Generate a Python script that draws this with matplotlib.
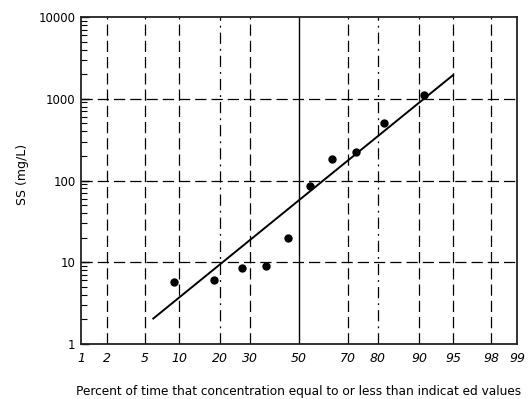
import matplotlib
matplotlib.use("Agg")
import matplotlib.pyplot as plt
import numpy as np
from statistics import NormalDist

# SS concentration vs. cumulative percent (probability paper)
percent = [9.1, 18.2, 27.3, 36.4, 45.5, 54.5, 63.6, 72.7, 81.8, 90.9]
ss = [5.7, 6.0, 8.5, 9.0, 20, 85, 185, 225, 500, 1100]

# fitted line end points
fit_percent = [6, 95]
fit_ss = [2.05, 1950]

prob_ticks = [1, 2, 5, 10, 20, 30, 50, 70, 80, 90, 95, 98, 99]
y_ticks = [1, 10, 100, 1000, 10000]

_nd = NormalDist()
_ppf = np.vectorize(lambda p: _nd.inv_cdf(min(max(p / 100.0, 1e-9), 1 - 1e-9)), otypes=[float])
_cdf = np.vectorize(lambda z: _nd.cdf(z) * 100.0, otypes=[float])


def prob_forward(p):
    return _ppf(np.asarray(p, dtype=float))


def prob_inverse(z):
    return _cdf(np.asarray(z, dtype=float))


fig = plt.figure(figsize=(5.29, 3.99), dpi=100)
ax = fig.add_axes([0.1531, 0.1378, 0.8242, 0.8196])
ax.set_xscale("function", functions=(prob_forward, prob_inverse))
ax.set_yscale("log")
ax.set_xlim(1, 99)
ax.set_ylim(1, 10000)

# vertical grid: solid at 50, dash-dot at 20 and 80, dashed elsewhere
for p in prob_ticks[1:-1]:
    if p == 50:
        ax.axvline(p, color="black", lw=1.0, zorder=1)
    elif p in (20, 80):
        ax.axvline(p, color="black", lw=0.9, dashes=(9, 4, 1.5, 4), zorder=1)
    else:
        ax.axvline(p, color="black", lw=0.9, dashes=(9, 4), zorder=1)
for y in y_ticks[1:-1]:
    ax.axhline(y, color="black", lw=0.9, dashes=(9, 4), zorder=1)

ax.plot(fit_percent, fit_ss, color="black", lw=1.4, zorder=3)
ax.plot(percent, ss, "o", color="black", ms=5, zorder=4)

ax.set_xticks(prob_ticks)
ax.set_xticklabels([str(p) for p in prob_ticks], style="italic", fontsize=9)
ax.xaxis.set_minor_locator(matplotlib.ticker.NullLocator())
ax.tick_params(axis="x", length=0, pad=6)

ax.set_yticks(y_ticks)
ax.set_yticklabels([str(y) for y in y_ticks], fontsize=8.5)
ax.yaxis.set_minor_locator(matplotlib.ticker.LogLocator(base=10, subs=np.arange(2, 10)))
ax.yaxis.set_minor_formatter(matplotlib.ticker.NullFormatter())
ax.tick_params(axis="y", which="major", direction="in", length=6, width=1, pad=4)
ax.tick_params(axis="y", which="minor", direction="in", length=4, width=0.8)

for s in ax.spines.values():
    s.set_linewidth(1.3)
    s.set_color("#222222")

ax.set_ylabel("SS (mg/L)", fontsize=9, labelpad=8)
ax.yaxis.set_label_coords(-0.12, 0.52)
ax.set_xlabel("Percent of time that concentration equal to or less than indicat ed values",
              fontsize=8.7, labelpad=14)

fig.savefig("out.png", dpi=100)
